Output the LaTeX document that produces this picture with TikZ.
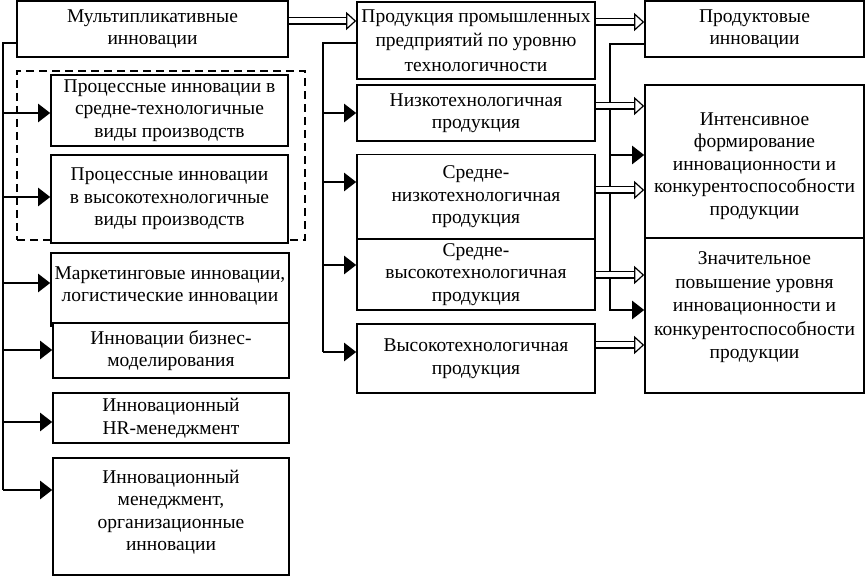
\documentclass[tikz,border=0pt]{standalone}
\usepackage{fontspec}
\setmainfont{Liberation Serif}
\usetikzlibrary{arrows.meta}

\begin{document}
\begin{tikzpicture}[x=1pt,y=-1pt,
    main node/.style={rectangle,draw,fill=white,line width=1.6pt,align=center,inner sep=1pt,font=\fontsize{19.5}{22.5}\selectfont},
    group frame/.style={rectangle,draw,dashed,dash pattern=on 8pt off 5pt,line width=1.5pt},
    trunk line/.style={line width=2.2pt},
    fill arrow/.style={line width=2.2pt,-{Triangle[length=12pt,width=18pt]}},
    open arrow/.style={double,double distance=5pt,line width=1.2pt,-{Triangle[open,length=10pt,width=18pt,line width=1.2pt]}}]
    \useasboundingbox (0,0) rectangle (865,577);

    % left column
    \node[group frame,minimum width=288,minimum height=169] (grp) at (161,155.5) {};
    \node[main node,minimum width=271,minimum height=56] (A) at (152.5,29) {Мультипликативные\\инновации};
    \node[main node,minimum width=237,minimum height=71] (B1) at (169.5,110.5) {Процессные инновации в\\средне-технологичные\\виды производств};
    \node[main node,minimum width=237,minimum height=88] (B2) at (169.5,199) {Процессные инновации\\в высокотехнологичные\\виды производств};
    \node[main node,minimum width=238,minimum height=73] (C) at (170,289.5) {Маркетинговые инновации,\\логистические инновации\\[-12pt]\mbox{}};
    \node[main node,minimum width=236,minimum height=55] (D) at (171,350.5) {Инновации бизнес-\\моделирования};
    \node[main node,minimum width=236,minimum height=50] (E) at (171,418) {Инновационный\\HR-менеджмент};
    \node[main node,minimum width=236,minimum height=117] (F) at (171,516.5) {Инновационный\\менеджмент,\\организационные\\инновации\\[-10pt]\mbox{}};

    % middle column
    \node[main node,minimum width=238,minimum height=77,font=\fontsize{19.5}{24.5}\selectfont] (M0) at (476,40.5) {Продукция промышленных\\предприятий по уровню\\технологичности};
    \node[main node,minimum width=238,minimum height=56] (M1) at (476,113) {Низкотехнологичная\\продукция};
    \node[main node,minimum width=238,minimum height=85] (M2) at (476,197) {Средне-\\низкотехнологичная\\продукция};
    \node[main node,minimum width=238,minimum height=71] (M3) at (476,274.5) {Средне-\\высокотехнологичная\\продукция};
    \node[main node,minimum width=238,minimum height=69] (M4) at (476,358.5) {Высокотехнологичная\\продукция};

    % right column
    \node[main node,minimum width=219,minimum height=56] (R1) at (754.5,29) {Продуктовые\\инновации};
    \node[main node,minimum width=219,minimum height=154] (R2) at (754.5,162) {\mbox{}\\[-2pt]Интенсивное\\формирование\\инновационности и\\конкурентоспособности\\продукции};
    \node[main node,minimum width=219,minimum height=155,font=\fontsize{19.5}{23.5}\selectfont] (R3) at (754.5,315.5) {Значительное\\повышение уровня\\инновационности и\\конкурентоспособности\\продукции\\[-3pt]\mbox{}};

    % trunk points
    \coordinate (t1) at (3,113);
    \coordinate (t2) at (3,197);
    \coordinate (t3) at (3,283);
    \coordinate (t4) at (3,350);
    \coordinate (t5) at (3,422);
    \coordinate (t6) at (3,490);
    \coordinate (m1) at (323,113);
    \coordinate (m2) at (323,182);
    \coordinate (m3) at (323,265);
    \coordinate (m4) at (323,352);
    \coordinate (r1) at (610,155);
    \coordinate (r2) at (610,310);

    \draw[trunk line] ([yshift=-14pt]A.west) -| (t6);
    \draw[fill arrow] (t1) -- (t1 -| B1.west);
    \draw[fill arrow] (t2) -- (t2 -| B2.west);
    \draw[fill arrow] (t3) -- (t3 -| C.west);
    \draw[fill arrow] (t4) -- (t4 -| D.west);
    \draw[fill arrow] (t5) -- (t5 -| E.west);
    \draw[fill arrow] (t6) -- (t6 -| F.west);

    \draw[trunk line] ([yshift=-2.5pt]M0.west) -| (m4);
    \draw[fill arrow] (m1) -- (m1 -| M1.west);
    \draw[fill arrow] (m2) -- (m2 -| M2.west);
    \draw[fill arrow] (m3) -- (m3 -| M3.west);
    \draw[fill arrow] (m4) -- (m4 -| M4.west);

    \draw[fill arrow] ([yshift=-15pt]R1.west) -| (r2) -- (r2 -| R3.west);
    \draw[fill arrow] (r1) -- (r1 -| R2.west);

    \draw[open arrow] ([yshift=8pt]A.east) -- ([yshift=8pt]A.east -| M0.west);
    \draw[open arrow] ([yshift=18.5pt]M0.east) -- ([yshift=18.5pt]M0.east -| R1.west);
    \draw[open arrow] ([yshift=7pt]M1.east) -- ([yshift=7pt]M1.east -| R2.west);
    \draw[open arrow] ([yshift=7pt]M2.east) -- ([yshift=7pt]M2.east -| R2.west);
    \draw[open arrow] ([yshift=-0.5pt]M3.east) -- ([yshift=-0.5pt]M3.east -| R3.west);
    \draw[open arrow] ([yshift=13.5pt]M4.east) -- ([yshift=13.5pt]M4.east -| R3.west);
\end{tikzpicture}
\end{document}
